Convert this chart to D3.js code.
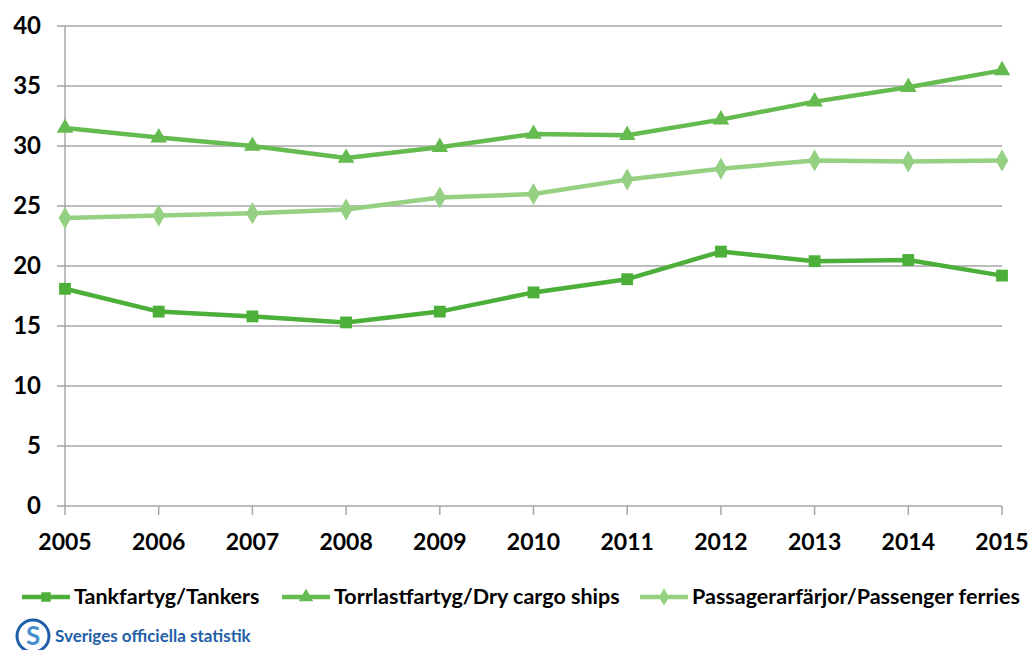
<!DOCTYPE html>
<html>
<head>
<meta charset="utf-8">
<script src="https://cdn.jsdelivr.net/npm/d3@7"></script>
<style>
  body { margin: 0; background: #fff; }
  svg text { font-family: Lato, "Open Sans", sans-serif; }
</style>
</head>
<body>
<div id="chart"></div>
<script>
// Data
const years = [2005, 2006, 2007, 2008, 2009, 2010, 2011, 2012, 2013, 2014, 2015];
const tankers = [18.1, 16.2, 15.8, 15.3, 16.2, 17.8, 18.9, 21.2, 20.4, 20.5, 19.2];
const dryCargo = [31.5, 30.7, 30.0, 29.0, 29.9, 31.0, 30.9, 32.2, 33.7, 34.9, 36.3];
const ferries = [24.0, 24.2, 24.4, 24.7, 25.7, 26.0, 27.2, 28.1, 28.8, 28.7, 28.8];
const yTicks = [0, 5, 10, 15, 20, 25, 30, 35, 40];

const seriesNames = ["Tankfartyg/Tankers", "Torrlastfartyg/Dry cargo ships", "Passagerarfärjor/Passenger ferries"];
const seriesValues = [tankers, dryCargo, ferries];
const seriesColors = ["#4caf3a", "#66bb50", "#95d083"];
const seriesSymbols = [d3.symbolSquare, d3.symbolTriangle, d3.symbolDiamond];

const W = 1030, H = 650;
const svg = d3.select("#chart").append("svg")
    .attr("width", W)
    .attr("height", H);

const x = d3.scaleLinear().domain([2005, 2015]).range([65, 1002]);
const y = d3.scaleLinear().domain([0, 40]).range([506, 26]);

// Grid lines
svg.append("g")
    .selectAll("line")
    .data(yTicks)
    .join("line")
    .attr("x1", 57)
    .attr("x2", 1002)
    .attr("y1", d => y(d))
    .attr("y2", d => y(d))
    .attr("stroke", "#a6a6a6")
    .attr("stroke-width", 1.5);

// Y axis line
svg.append("line")
    .attr("x1", x(2005)).attr("x2", x(2005))
    .attr("y1", y(40)).attr("y2", y(0))
    .attr("stroke", "#a6a6a6")
    .attr("stroke-width", 1.5);

// X tick marks
svg.append("g")
    .selectAll("line")
    .data(years)
    .join("line")
    .attr("x1", d => x(d)).attr("x2", d => x(d))
    .attr("y1", y(0)).attr("y2", y(0) + 9)
    .attr("stroke", "#a6a6a6")
    .attr("stroke-width", 1.5);

// Y labels
svg.append("g")
    .selectAll("text")
    .data(yTicks)
    .join("text")
    .attr("x", 41)
    .attr("y", d => y(d) + 8)
    .attr("text-anchor", "end")
    .attr("font-size", 24)
    .attr("font-weight", "bold")
    .attr("fill", "#000")
    .text(d => d);

// X labels
svg.append("g")
    .selectAll("text")
    .data(years)
    .join("text")
    .attr("x", d => x(d))
    .attr("y", 550)
    .attr("text-anchor", "middle")
    .attr("font-size", 23)
    .attr("font-weight", "bold")
    .attr("fill", "#000")
    .text(d => d);

// Lines and markers
const line = d3.line()
    .x((d, i) => x(years[i]))
    .y(d => y(d));

seriesValues.forEach((vals, s) => {
    svg.append("path")
        .datum(vals)
        .attr("d", line)
        .attr("fill", "none")
        .attr("stroke", seriesColors[s])
        .attr("stroke-width", 4.5)
        .attr("stroke-linejoin", "round");

    svg.append("g")
        .selectAll("path")
        .data(vals)
        .join("path")
        .attr("transform", (d, i) => `translate(${x(years[i])},${y(d)})`)
        .attr("d", d3.symbol().type(seriesSymbols[s]).size(s === 1 ? 120 : 140))
        .attr("fill", seriesColors[s]);
});

// Legend
const legendX = [22, 282, 640];
const legend = svg.append("g");
seriesNames.forEach((name, s) => {
    const g = legend.append("g").attr("transform", `translate(${legendX[s]},597)`);
    g.append("line")
        .attr("x1", 0).attr("x2", 48)
        .attr("stroke", seriesColors[s])
        .attr("stroke-width", 4.5);
    g.append("path")
        .attr("transform", "translate(24,0)")
        .attr("d", d3.symbol().type(seriesSymbols[s]).size(90))
        .attr("fill", seriesColors[s]);
    g.append("text")
        .attr("x", 52)
        .attr("y", 7)
        .attr("font-size", 21.5)
        .attr("font-weight", "bold")
        .attr("fill", "#000")
        .text(name);
});

// Logo
const logo = svg.append("g").attr("transform", "translate(33,636)");
logo.append("circle")
    .attr("r", 16)
    .attr("fill", "none")
    .attr("stroke", "#1f5ea8")
    .attr("stroke-width", 3);
logo.append("text")
    .attr("x", 0)
    .attr("y", 9)
    .attr("text-anchor", "middle")
    .attr("font-size", 26)
    .attr("font-weight", "bold")
    .attr("fill", "#4a8fd0")
    .text("S");
svg.append("text")
    .attr("x", 55)
    .attr("y", 642)
    .attr("font-size", 17)
    .attr("font-weight", "bold")
    .attr("fill", "#1f5ea8")
    .text("Sveriges officiella statistik");
</script>
</body>
</html>
